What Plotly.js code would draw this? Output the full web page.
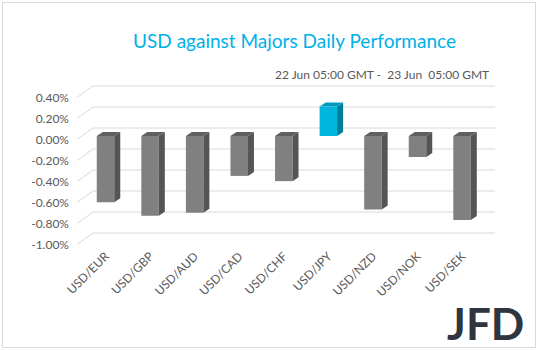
<!DOCTYPE html>
<html>
<head>
<meta charset="utf-8">
<script src="https://cdn.plot.ly/plotly-3.0.1.min.js"></script>
<style>html,body{margin:0;padding:0;background:#fff;}#chart{width:538px;height:351px;}</style>
</head>
<body>
<div id="chart"></div>
<script>
// ---- data ----
var categories = ["USD/EUR","USD/GBP","USD/AUD","USD/CAD","USD/CHF","USD/JPY","USD/NZD","USD/NOK","USD/SEK"];
var values = [-0.63, -0.76, -0.73, -0.38, -0.43, 0.28, -0.70, -0.20, -0.80]; // percent
var tickValues = [0.4, 0.2, 0.0, -0.2, -0.4, -0.6, -0.8, -1.0];
var tickLabels = ["0.40%","0.20%","0.00%","-0.20%","-0.40%","-0.60%","-0.80%","-1.00%"];

// ---- pseudo-3D geometry (in axis units) ----
var W = 0.3926, DX = 0.1346, DY = 0.0381;
var BACK = 0.0762, FRONT = -0.0333, GX0 = -0.2805, GX1 = 8.739, DX0 = -0.6394;
var FONT = "Lato, 'Open Sans', sans-serif";
var L = 70, R = 510, T = 80, B = 246;
var XR = [-0.7965, 9.0756];
var YR = [(136-B)/105, (136-T)/105]; // 0 at 136px, 105 px per 1%

var idx = categories.map(function(_, i){ return i; });
var frontCol = values.map(function(v){ return v > 0 ? "#00B4DE" : "#808080"; });
var sideCol = function(v){ return v > 0 ? "#007E99" : "#555555"; };
var topCol = function(v){ return v > 0 ? "#009CC0" : "#606060"; };

var traces = [];
// back wall gridlines + floor diagonals (bottom subplot)
var gx = [], gy = [];
tickValues.forEach(function(t){
  gx.push(DX0, GX0, GX1, null);
  gy.push(t + FRONT, t + BACK, t + BACK, null);
});
traces.push({type:"scatter", mode:"lines", x:gx, y:gy, line:{color:"#D9D9D9", width:1},
  hoverinfo:"skip", showlegend:false, cliponaxis:false, xaxis:"x", yaxis:"y"});

// front faces (overlay subplot, drawn above the grid)
traces.push({type:"bar", x:idx, y:values, width:W, marker:{color:frontCol, line:{width:0}},
  showlegend:false, hoverinfo:"skip", xaxis:"x2", yaxis:"y2"});

// side + top faces
values.forEach(function(v, i){
  var r = i + W/2, l = i - W/2, top = Math.max(v, 0);
  traces.push({type:"scatter", mode:"lines", fill:"toself",
    x:[r, r+DX, r+DX, r, r], y:[0, DY, v+DY, v, 0],
    line:{width:0, color:sideCol(v)}, fillcolor:sideCol(v), hoverinfo:"skip", showlegend:false,
    xaxis:"x2", yaxis:"y2"});
  traces.push({type:"scatter", mode:"lines", fill:"toself",
    x:[l, l+DX, r+DX, r, l], y:[top, top+DY, top+DY, top, top],
    line:{width:0, color:topCol(v)}, fillcolor:topCol(v), hoverinfo:"skip", showlegend:false,
    xaxis:"x2", yaxis:"y2"});
});

var hidden = {showgrid:false, zeroline:false, showline:false, ticks:"", showticklabels:false, fixedrange:true};
var layout = {
  width:538, height:351,
  margin:{l:L, r:538-R, t:T, b:351-B, pad:0},
  paper_bgcolor:"#fff", plot_bgcolor:"rgba(0,0,0,0)",
  showlegend:false,
  title:{text:"USD against Majors Daily Performance", x:294.5/538, xanchor:"center",
    y:1-41/351, yanchor:"middle", yref:"container", font:{family:FONT, size:19, color:"#00B0E8"}},
  xaxis:{range:XR, tickvals:idx, ticktext:categories, tickangle:-45,
    showgrid:false, zeroline:false, showline:false, ticks:"",
    tickfont:{family:FONT, size:12, color:"#595959"}, fixedrange:true},
  yaxis:{range:YR, tickvals:tickValues.map(function(t){return t+FRONT;}),
    ticktext:tickLabels, showgrid:false, zeroline:false, showline:false, ticks:"",
    tickfont:{family:FONT, size:12, color:"#595959"}, fixedrange:true},
  xaxis2:Object.assign({range:XR, overlaying:"x"}, hidden),
  yaxis2:Object.assign({range:YR, overlaying:"y"}, hidden),
  annotations:[
    {text:"22 Jun 05:00 GMT -  23 Jun  05:00 GMT", xref:"paper", yref:"paper",
     x:(491-L)/(R-L), xanchor:"right", y:(B-74)/(B-T), yanchor:"middle", showarrow:false,
     font:{family:FONT, size:12, color:"#595959"}},
    {text:"<b>JFD</b>", xref:"paper", yref:"paper",
     x:(485-L)/(R-L), xanchor:"center", y:(B-323)/(B-T), yanchor:"middle", showarrow:false,
     font:{family:FONT, size:44, color:"#2F353F"}}
  ],
  shapes:[
    {type:"rect", xref:"paper", yref:"paper",
     x0:(2.5-L)/(R-L), x1:(535.5-L)/(R-L), y0:(B-347.5)/(B-T), y1:(B-2.5)/(B-T),
     line:{color:"#D9D9D9", width:1}, fillcolor:"rgba(0,0,0,0)", layer:"below"}
  ]
};
Plotly.newPlot("chart", traces, layout, {displayModeBar:false, staticPlot:true});
</script>
</body>
</html>
